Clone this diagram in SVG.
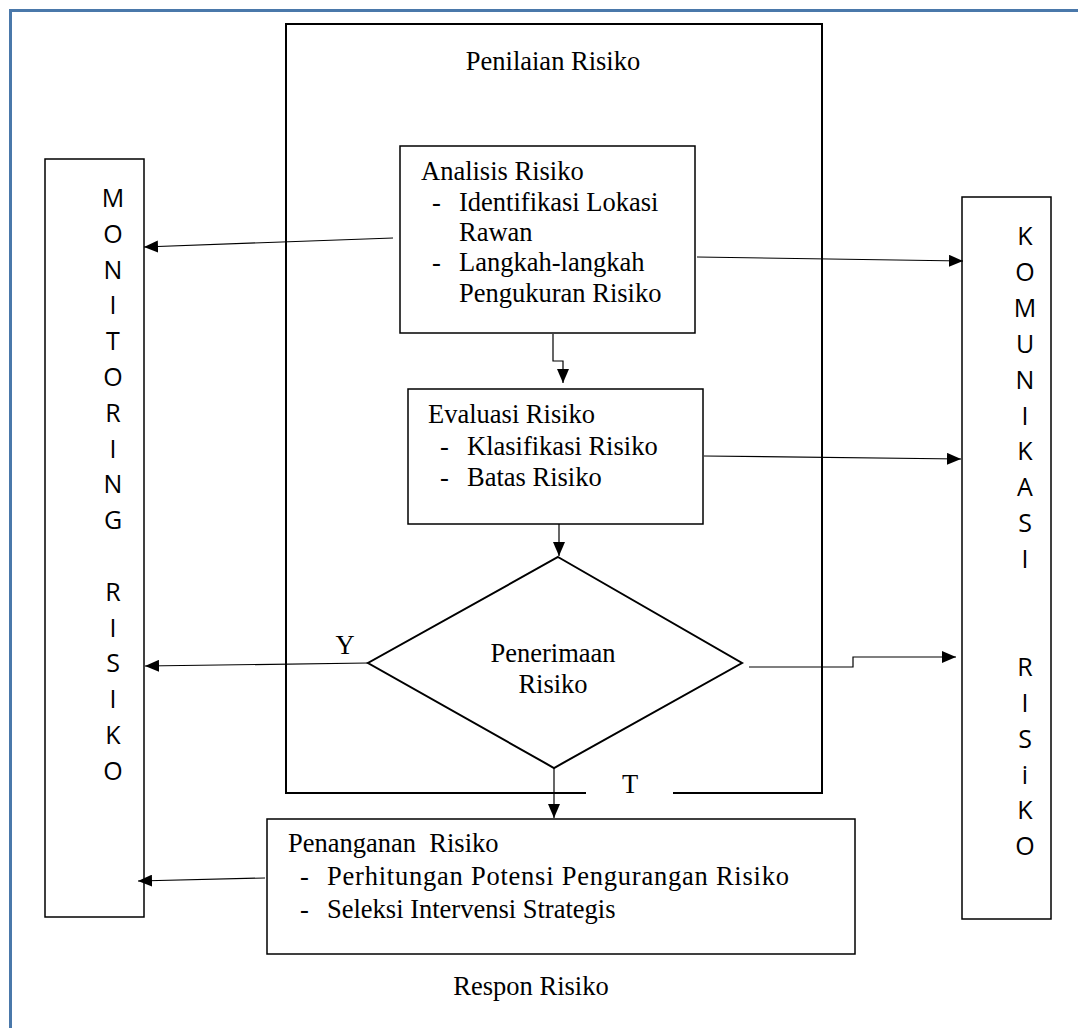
<svg xmlns="http://www.w3.org/2000/svg" width="1078" height="1028" viewBox="0 0 1078 1028">
<defs>
<style>
.t{font-family:"Liberation Serif","Times New Roman",serif;font-size:26.5px;fill:#000}
.v{font-family:"Open Sans","Noto Sans",sans-serif;font-size:25px;fill:#000;text-anchor:middle}
.box{fill:#fff;stroke:#000;stroke-width:1.5}
.ln{fill:none;stroke:#000;stroke-width:1.2}
</style>
<marker id="ah" viewBox="0 0 14 12" refX="14" refY="6" markerWidth="14" markerHeight="12" markerUnits="userSpaceOnUse" orient="auto"><path d="M0,0 L14,6 L0,12 Z" fill="#000"/></marker>
</defs>
<rect width="1078" height="1028" fill="#fff"/>
<path d="M10.5,1028 V10.5 H1078" fill="none" stroke="#4a78aa" stroke-width="3"/>

<g id="penilaian">
<path d="M586,793 H286 V24 H822 V793 H673" fill="none" stroke="#000" stroke-width="2"/>
<text class="t" x="553" y="70" text-anchor="middle">Penilaian Risiko</text>
<text class="t" x="630" y="793" text-anchor="middle">T</text>
</g>

<g id="monitoring">
<rect class="box" x="45" y="159" width="99" height="758"/>
<text class="v">
<tspan x="113" y="207">M</tspan><tspan x="113" y="242.8">O</tspan><tspan x="113" y="278.6">N</tspan><tspan x="113" y="314.4">I</tspan><tspan x="113" y="350.2">T</tspan><tspan x="113" y="386">O</tspan><tspan x="113" y="421.8">R</tspan><tspan x="113" y="457.6">I</tspan><tspan x="113" y="493.4">N</tspan><tspan x="113" y="529.2">G</tspan><tspan x="113" y="600.8">R</tspan><tspan x="113" y="636.6">I</tspan><tspan x="113" y="672.4">S</tspan><tspan x="113" y="708.2">I</tspan><tspan x="113" y="744">K</tspan><tspan x="113" y="779.8">O</tspan>
</text>
</g>

<g id="komunikasi">
<rect class="box" x="962" y="197" width="89" height="722"/>
<text class="v">
<tspan x="1025" y="245">K</tspan><tspan x="1025" y="280.9">O</tspan><tspan x="1025" y="316.8">M</tspan><tspan x="1025" y="352.7">U</tspan><tspan x="1025" y="388.6">N</tspan><tspan x="1025" y="424.5">I</tspan><tspan x="1025" y="460.4">K</tspan><tspan x="1025" y="496.3">A</tspan><tspan x="1025" y="532.2">S</tspan><tspan x="1025" y="568.1">I</tspan><tspan x="1025" y="675.8">R</tspan><tspan x="1025" y="711.7">I</tspan><tspan x="1025" y="747.6">S</tspan><tspan x="1025" y="783.5">i</tspan><tspan x="1025" y="819.4">K</tspan><tspan x="1025" y="855.3">O</tspan>
</text>
</g>

<g id="analisis">
<rect class="box" x="400" y="146" width="295" height="187"/>
<text class="t" x="421" y="180">Analisis Risiko</text>
<text class="t" x="432" y="211">-</text>
<text class="t" x="459" y="211">Identifikasi Lokasi</text>
<text class="t" x="459" y="241">Rawan</text>
<text class="t" x="432" y="271">-</text>
<text class="t" x="459" y="271">Langkah-langkah</text>
<text class="t" x="459" y="302">Pengukuran Risiko</text>
</g>

<g id="evaluasi">
<rect class="box" x="408" y="389" width="295" height="135"/>
<text class="t" x="428" y="423">Evaluasi Risiko</text>
<text class="t" x="440" y="455">-</text>
<text class="t" x="467" y="455">Klasifikasi Risiko</text>
<text class="t" x="440" y="486">-</text>
<text class="t" x="467" y="486">Batas Risiko</text>
</g>

<g id="penerimaan">
<polygon points="558,557 742,663 554,768 368,663" fill="#fff" stroke="#000" stroke-width="2"/>
<text class="t" x="553" y="662" text-anchor="middle">Penerimaan</text>
<text class="t" x="553" y="693" text-anchor="middle">Risiko</text>
<text class="t" x="345" y="654" text-anchor="middle">Y</text>
</g>

<g id="penanganan">
<rect class="box" x="267" y="819" width="588" height="135"/>
<text class="t" x="288" y="852" xml:space="preserve">Penanganan  Risiko</text>
<text class="t" x="300" y="885">-</text>
<text class="t" x="327" y="885" textLength="462" lengthAdjust="spacing">Perhitungan Potensi Pengurangan Risiko</text>
<text class="t" x="300" y="918">-</text>
<text class="t" x="327" y="918">Seleksi Intervensi Strategis</text>
</g>

<g id="respon">
<text class="t" x="531" y="995" text-anchor="middle">Respon Risiko</text>
</g>

<g id="connectors">
<path class="ln" d="M553,334 V361 H563 V383" marker-end="url(#ah)"/>
<path class="ln" d="M559,524 V556" marker-end="url(#ah)"/>
<path class="ln" d="M554,768 V818" marker-end="url(#ah)"/>
<path class="ln" d="M393,238 L144,247" marker-end="url(#ah)"/>
<path class="ln" d="M697,257 L963,261" marker-end="url(#ah)"/>
<path class="ln" d="M704,456 L961,459" marker-end="url(#ah)"/>
<path class="ln" d="M368,663 L145,666" marker-end="url(#ah)"/>
<path class="ln" d="M749,667 H853 V657 H956" marker-end="url(#ah)"/>
<path class="ln" d="M265,878 L138,881" marker-end="url(#ah)"/>
</g>
</svg>
